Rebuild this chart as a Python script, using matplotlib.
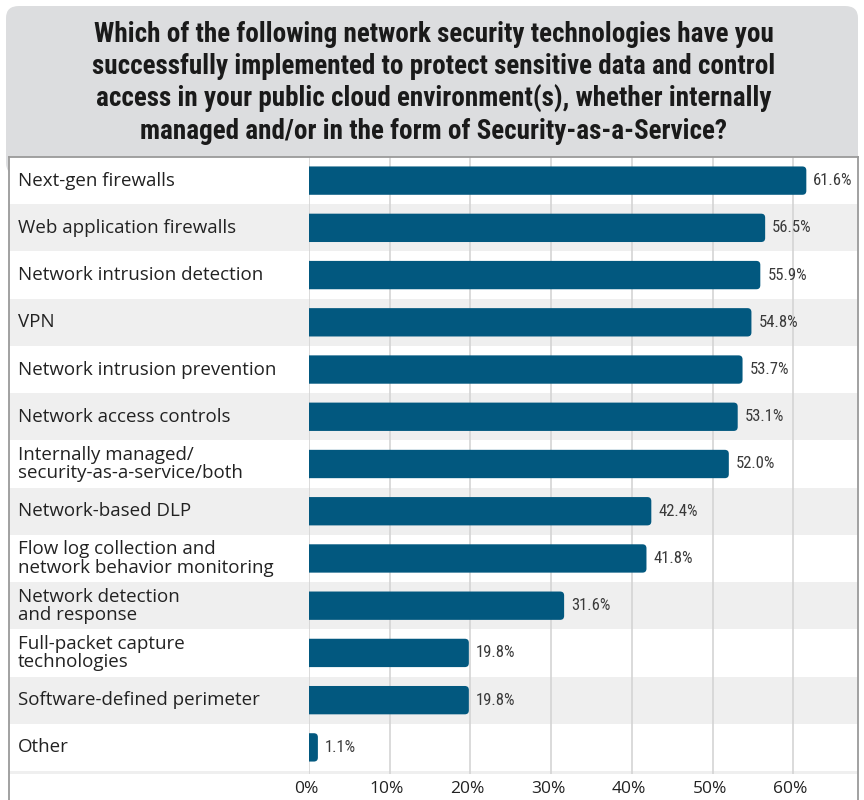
import matplotlib
matplotlib.use("Agg")
import matplotlib.pyplot as plt
from matplotlib.patches import FancyBboxPatch
from matplotlib.lines import Line2D
import matplotlib.transforms as mtransforms

title = ("Which of the following network security technologies have you\n"
         "successfully implemented to protect sensitive data and control\n"
         "access in your public cloud environment(s), whether internally\n"
         "managed and/or in the form of Security-as-a-Service?")
categories = [
    "Next-gen firewalls",
    "Web application firewalls",
    "Network intrusion detection",
    "VPN",
    "Network intrusion prevention",
    "Network access controls",
    "Internally managed/\nsecurity-as-a-service/both",
    "Network-based DLP",
    "Flow log collection and\nnetwork behavior monitoring",
    "Network detection\nand response",
    "Full-packet capture\ntechnologies",
    "Software-defined perimeter",
    "Other",
]
values = [61.6, 56.5, 55.9, 54.8, 53.7, 53.1, 52.0, 42.4, 41.8, 31.6, 19.8, 19.8, 1.1]
xticks = [0, 10, 20, 30, 40, 50, 60]
xticklabels = ["0%", "10%", "20%", "30%", "40%", "50%", "60%"]

W, H = 864, 800
BAR_COLOR = "#02587f"
ROW_GRAY = "#efefef"
GRID = "#d4d4d4"
BORDER = "#9a9a9a"
COND = ["Roboto Condensed", "Liberation Sans Narrow", "DejaVu Sans"]
LABEL_FONT = ["Open Sans", "Noto Sans", "DejaVu Sans"]

fig = plt.figure(figsize=(W / 100, H / 100), dpi=100)
fig.patch.set_facecolor("white")

def fx(x):
    return x / W

def fy(y):
    return 1 - y / H

top_px, bot_px = 157, 774
left_px, div_px, right_px = 9, 309, 858
n = len(categories)
row_h_px = (771 - top_px) / n
ymax = n - 0.5 + (bot_px - 771) / row_h_px

# title box
tb = FancyBboxPatch((fx(6), fy(175)), fx(858) - fx(6), fy(6) - fy(175),
                    boxstyle="round,pad=0,rounding_size=0.015",
                    transform=fig.transFigure, facecolor="#dcdddf",
                    edgecolor="none", zorder=-5)
fig.patches.append(tb)
fig.text(fx(434), fy(83), title, ha="center", va="center", fontsize=19.5,
         fontweight="bold", family=COND, color="#1a1a1a", linespacing=1.23)

# axes
ax_lab = fig.add_axes([fx(left_px), fy(bot_px), fx(div_px) - fx(left_px), fy(top_px) - fy(bot_px)])
ax = fig.add_axes([fx(div_px), fy(bot_px), fx(right_px) - fx(div_px), fy(top_px) - fy(bot_px)])

for a in (ax_lab, ax):
    a.set_ylim(ymax, -0.5)
    for s in a.spines.values():
        s.set_visible(False)
    for i in range(n + 1):
        if i % 2 == 1:
            a.axhspan(i - 0.5, i + 0.5, color=ROW_GRAY, zorder=0, lw=0)
    a.set_yticks([])

ax_lab.set_xlim(0, 1)
ax_lab.set_xticks([])
for i, c in enumerate(categories):
    ax_lab.text(0.03, i, c, ha="left", va="center", fontsize=13.5, family=LABEL_FONT,
                color="#222222", linespacing=1.02)

ax.set_xlim(0, 68)
ax.set_xticks(xticks)
ax.set_xticklabels(xticklabels, fontsize=12.5, family=LABEL_FONT, color="#222222")
ax.tick_params(axis="x", length=0, pad=5)
shift = mtransforms.ScaledTranslation(-3 / 100, 0, fig.dpi_scale_trans)
for lbl in ax.get_xticklabels():
    lbl.set_transform(lbl.get_transform() + shift)
for t in xticks:
    ax.axvline(t, color=GRID, lw=1.2, zorder=1)

bars = ax.barh(range(n), values, height=0.6, color=BAR_COLOR, zorder=2)
x_per_px = 68 / (right_px - div_px)
y_per_px = 1 / row_h_px
r_px = 4
for b, v in zip(bars, values):
    x0, y0 = b.get_x(), b.get_y()
    w, h = b.get_width(), b.get_height()
    b.set_visible(False)
    rs = r_px * x_per_px
    p = FancyBboxPatch((x0 - 2 * rs, y0), w + 2 * rs, h,
                       boxstyle=f"round,pad=0,rounding_size={rs}",
                       mutation_aspect=(r_px * y_per_px) / rs,
                       facecolor=BAR_COLOR, edgecolor="none", zorder=2)
    ax.add_patch(p)
    ax.text(v + 7 * x_per_px, b.get_y() + h / 2, f"{v:.1f}%", ha="left", va="center",
            fontsize=12, family=COND, color="#3a3a3a", zorder=3)

# borders
fig.add_artist(Line2D([fx(left_px), fx(right_px)], [fy(top_px), fy(top_px)], color=BORDER, lw=1.3))
fig.add_artist(Line2D([fx(left_px), fx(left_px)], [fy(top_px), 0], color=BORDER, lw=1.3))
fig.add_artist(Line2D([fx(right_px), fx(right_px)], [fy(top_px), 0], color=BORDER, lw=1.3))

fig.savefig("out.png", dpi=100, facecolor="white")
